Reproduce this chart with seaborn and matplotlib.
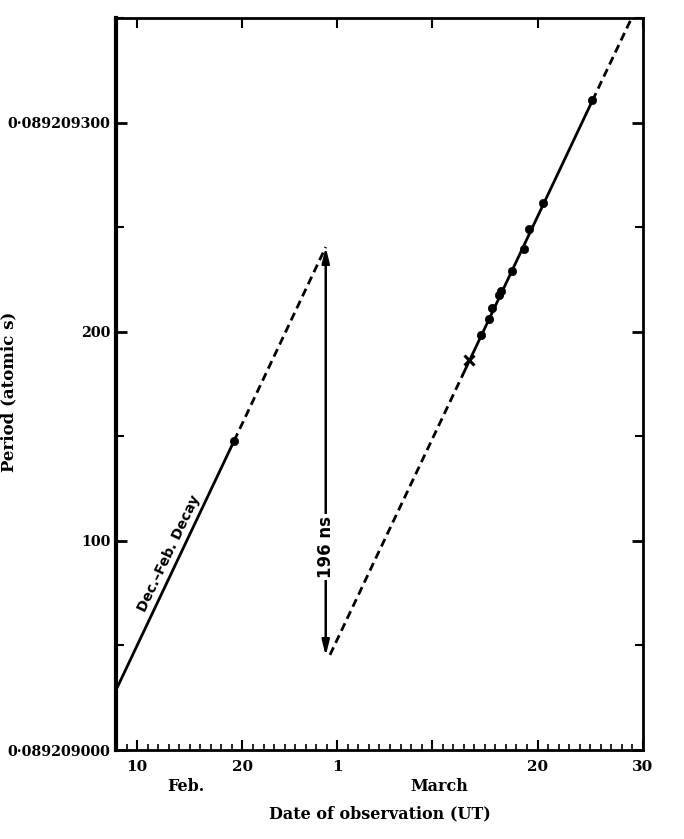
import numpy as np
import pandas as pd
import matplotlib
matplotlib.use('Agg')
import matplotlib.pyplot as plt
import seaborn as sns
from matplotlib.ticker import FixedLocator, MultipleLocator
import matplotlib.transforms as mtransforms

# day numbers counted from 1 Feb (1 Mar = day 29)
# period in ns above 0.089209000 s
pre_solid_days = [8.0, 19.2]
pre_solid_vals = [28.7, 147.8]
pre_dash_days = [19.2, 27.9]
pre_dash_vals = [147.8, 240.5]

post_dash1_days = [28.3, 40.9]
post_dash1_vals = [45.5, 179.4]
post_solid_days = [40.9, 53.2]
post_solid_vals = [179.4, 310.5]
post_dash2_days = [53.2, 57.3]
post_dash2_vals = [310.5, 354.0]

obs_days = [19.2, 42.6, 43.4, 43.7, 44.3, 44.5, 45.6, 46.7, 47.2, 48.5, 53.2]
obs_vals = [147.8, 198.6, 206.2, 211.5, 217.7, 219.6, 229.2, 239.7, 249.3, 261.7, 311.0]
cross_days = [41.5]
cross_vals = [186.6]

glitch_day = 27.9
glitch_top = 240.5
glitch_bottom = 45.0
glitch_label = '196 ns'

x_major = [10, 20, 29, 38, 48, 58]
x_labels = ['10', '20', '1', '', '20', '30']
y_major = [0, 100, 200, 300]
y_labels = ['0·089209000', '100', '200', '0·089209300']

sns.set_style('ticks')
plt.rcParams['font.family'] = ['DejaVu Serif', 'DejaVu Sans']
plt.rcParams['font.weight'] = 'bold'
for k in ['text.color', 'axes.labelcolor', 'xtick.color', 'ytick.color', 'axes.edgecolor']:
    plt.rcParams[k] = 'black'

fig = plt.figure(figsize=(6.84, 8.39), dpi=100)
ax = fig.add_axes([0.1696, 0.106, 0.7704, 0.8725])

sns.lineplot(x=pre_solid_days, y=pre_solid_vals, color='k', lw=2, ax=ax)
l1 = sns.lineplot(x=pre_dash_days, y=pre_dash_vals, color='k', lw=2, ax=ax).lines[-1]
l1.set_dashes([3, 1.8])
l2 = sns.lineplot(x=post_dash1_days, y=post_dash1_vals, color='k', lw=2, ax=ax).lines[-1]
l2.set_dashes([3, 1.8])
sns.lineplot(x=post_solid_days, y=post_solid_vals, color='k', lw=2, ax=ax)
l3 = sns.lineplot(x=post_dash2_days, y=post_dash2_vals, color='k', lw=2, ax=ax).lines[-1]
l3.set_dashes([3, 1.8])

sns.scatterplot(x=obs_days, y=obs_vals, color='k', s=36, marker='o', edgecolor='k', ax=ax, zorder=5)
ax.plot(cross_days, cross_vals, 'kx', ms=7, mew=2.2, zorder=5)

# glitch arrow
ax.annotate('', xy=(glitch_day, glitch_top), xytext=(glitch_day, glitch_bottom),
            arrowprops=dict(arrowstyle='<|-|>,head_length=0.9,head_width=0.22',
                            color='k', lw=1.8, shrinkA=0, shrinkB=0))
ax.text(glitch_day, 97, glitch_label, rotation=90, ha='center', va='center',
        fontsize=12, fontweight='bold', family='DejaVu Sans',
        bbox=dict(facecolor='white', edgecolor='none', pad=1.5), zorder=6)

ax.text(13.0, 94, 'Dec.–Feb. Decay', rotation=64.5, ha='center', va='center',
        fontsize=10, fontweight='bold', family='DejaVu Sans', rotation_mode='anchor')

ax.set_xlim(8, 58)
ax.set_ylim(0, 350)

ax.xaxis.set_major_locator(FixedLocator(x_major))
ax.set_xticklabels(x_labels, fontsize=11, fontweight='bold')
ax.xaxis.set_minor_locator(MultipleLocator(1))
ax.yaxis.set_major_locator(FixedLocator(y_major))
ax.set_yticklabels(y_labels, fontsize=10.3, fontweight='bold')
ax.yaxis.set_minor_locator(MultipleLocator(50))

ax.tick_params(axis='x', which='major', direction='in', length=7, width=1.5,
               top=True, bottom=True, pad=7)
ax.tick_params(axis='x', which='minor', direction='in', length=4, width=1.2,
               top=False, bottom=True)
ax.tick_params(axis='y', which='major', direction='in', length=8, width=2,
               left=True, right=True, pad=4)
ax.tick_params(axis='y', which='minor', direction='in', length=6, width=1.5,
               left=True, right=True)

for side in ['top', 'right', 'bottom']:
    ax.spines[side].set_linewidth(2)
ax.spines['left'].set_linewidth(3)

trans = mtransforms.blended_transform_factory(ax.transData, ax.transAxes)
ax.text(14.6, -0.05, 'Feb.', transform=trans, ha='center', va='center',
        fontsize=11.5, fontweight='bold')
ax.text(38.7, -0.05, 'March', transform=trans, ha='center', va='center',
        fontsize=11.5, fontweight='bold')

ax.set_xlabel('Date of observation (UT)', fontsize=11.5, fontweight='bold', labelpad=23)
ax.set_ylabel('Period (atomic s)', fontsize=12, fontweight='bold')
ax.yaxis.set_label_coords(-0.188, 0.49)

fig.savefig('out.png', dpi=100)
